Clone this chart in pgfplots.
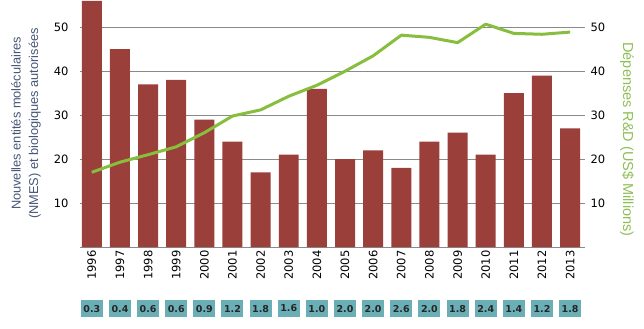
\documentclass[border=0pt]{standalone}
\usepackage{pgfplots}
\pgfplotsset{compat=1.18}
\usepackage{pgfplotstable}
\usepackage{fontspec}
\setmainfont{DejaVu Sans}
\newfontfamily\labelfont{Liberation Sans}

\definecolor{barred}{HTML}{9A3F3A}
\definecolor{rdgreen}{HTML}{88BE3D}
\definecolor{rdlabel}{HTML}{8DBF55}
\definecolor{boxteal}{HTML}{6BAFB6}
\definecolor{gridgrey}{HTML}{8A8A8A}
\definecolor{labelblue}{HTML}{465677}

% year index, approvals (NMEs), R&D spending, share value shown in the boxes
\pgfplotstableread{
x year nme rd box
0  1996 56 17.0 0.3
1  1997 45 19.3 0.4
2  1998 37 21.0 0.6
3  1999 38 22.8 0.6
4  2000 29 26.0 0.9
5  2001 24 29.8 1.2
6  2002 17 31.2 1.8
7  2003 21 34.3 1.6
8  2004 36 36.8 1.0
9  2005 20 40.0 2.0
10 2006 22 43.5 2.0
11 2007 18 48.2 2.6
12 2008 24 47.7 2.0
13 2009 26 46.5 1.8
14 2010 21 50.7 2.4
15 2011 35 48.6 1.4
16 2012 39 48.4 1.2
17 2013 27 48.9 1.8
}\datatable

\begin{document}
\begin{tikzpicture}
\pgfplotsset{
  common/.style={
    scale only axis, width=505pt, height=247pt,
    xmin=-0.42, xmax=17.53, ymin=0, ymax=56.2,
    ytick={10,20,30,40,50},
    tick style={draw=none},
    /pgf/number format/assume math mode=true,
  }
}
\begin{axis}[common,
  axis line style={draw=none},
  ymajorgrids, grid style={gridgrey, line width=0.8pt},
  yticklabel style={font=\fontsize{11.5}{12}\selectfont, text=black, xshift=-8pt},
  xtick=data,
  xticklabels from table={\datatable}{year},
  xticklabel style={rotate=90, anchor=east, font=\fontsize{11.5}{12}\selectfont},
  clip=false,
  ylabel={Nouvelles entités moléculaires\\(NMES) et biologiques autorisées},
  every axis y label/.style={at={(rel axis cs:-0.107,0.5)}, rotate=90, anchor=center,
    align=center, font=\labelfont\fontsize{12.8}{17.5}\selectfont, text=labelblue},
]
  % zero baseline
  \draw[gridgrey, line width=1pt] (rel axis cs:0,0) -- (rel axis cs:1,0);
  \addplot[ybar, bar width=0.71, fill=barred, draw=none] table[x=x, y=nme] {\datatable};
  \addplot[rdgreen, line width=3pt, line join=round] table[x=x, y=rd] {\datatable};
  % value boxes under the year labels
  \addplot[draw=none, mark=none,
    nodes near coords,
    point meta=explicit symbolic,
    every node near coord/.style={anchor=center, fill=boxteal,
      minimum width=22pt, minimum height=17pt, inner sep=0pt,
      font=\bfseries\fontsize{9.5}{9.5}\selectfont, text=black!85},
  ] table[x=x, y expr=-14.0, meta=box] {\datatable};
  \path (rel axis cs:-0.1584,-0.328) rectangle (rel axis cs:1.1168,1);
\end{axis}
\begin{axis}[common,
  axis line style={draw=none},
  axis y line*=right,
  axis x line=none,
  yticklabel style={font=\fontsize{11.5}{12}\selectfont, text=black, xshift=2pt},
  ylabel={Dépenses R\&D (US\$ Millions)},
  every axis y label/.style={at={(rel axis cs:1.083,0.435)}, rotate=-90, anchor=center,
    font=\labelfont\fontsize{14.5}{16}\selectfont, text=rdlabel},
]
  \addplot[draw=none] coordinates {(0,0)};
\end{axis}
\end{tikzpicture}
\end{document}
